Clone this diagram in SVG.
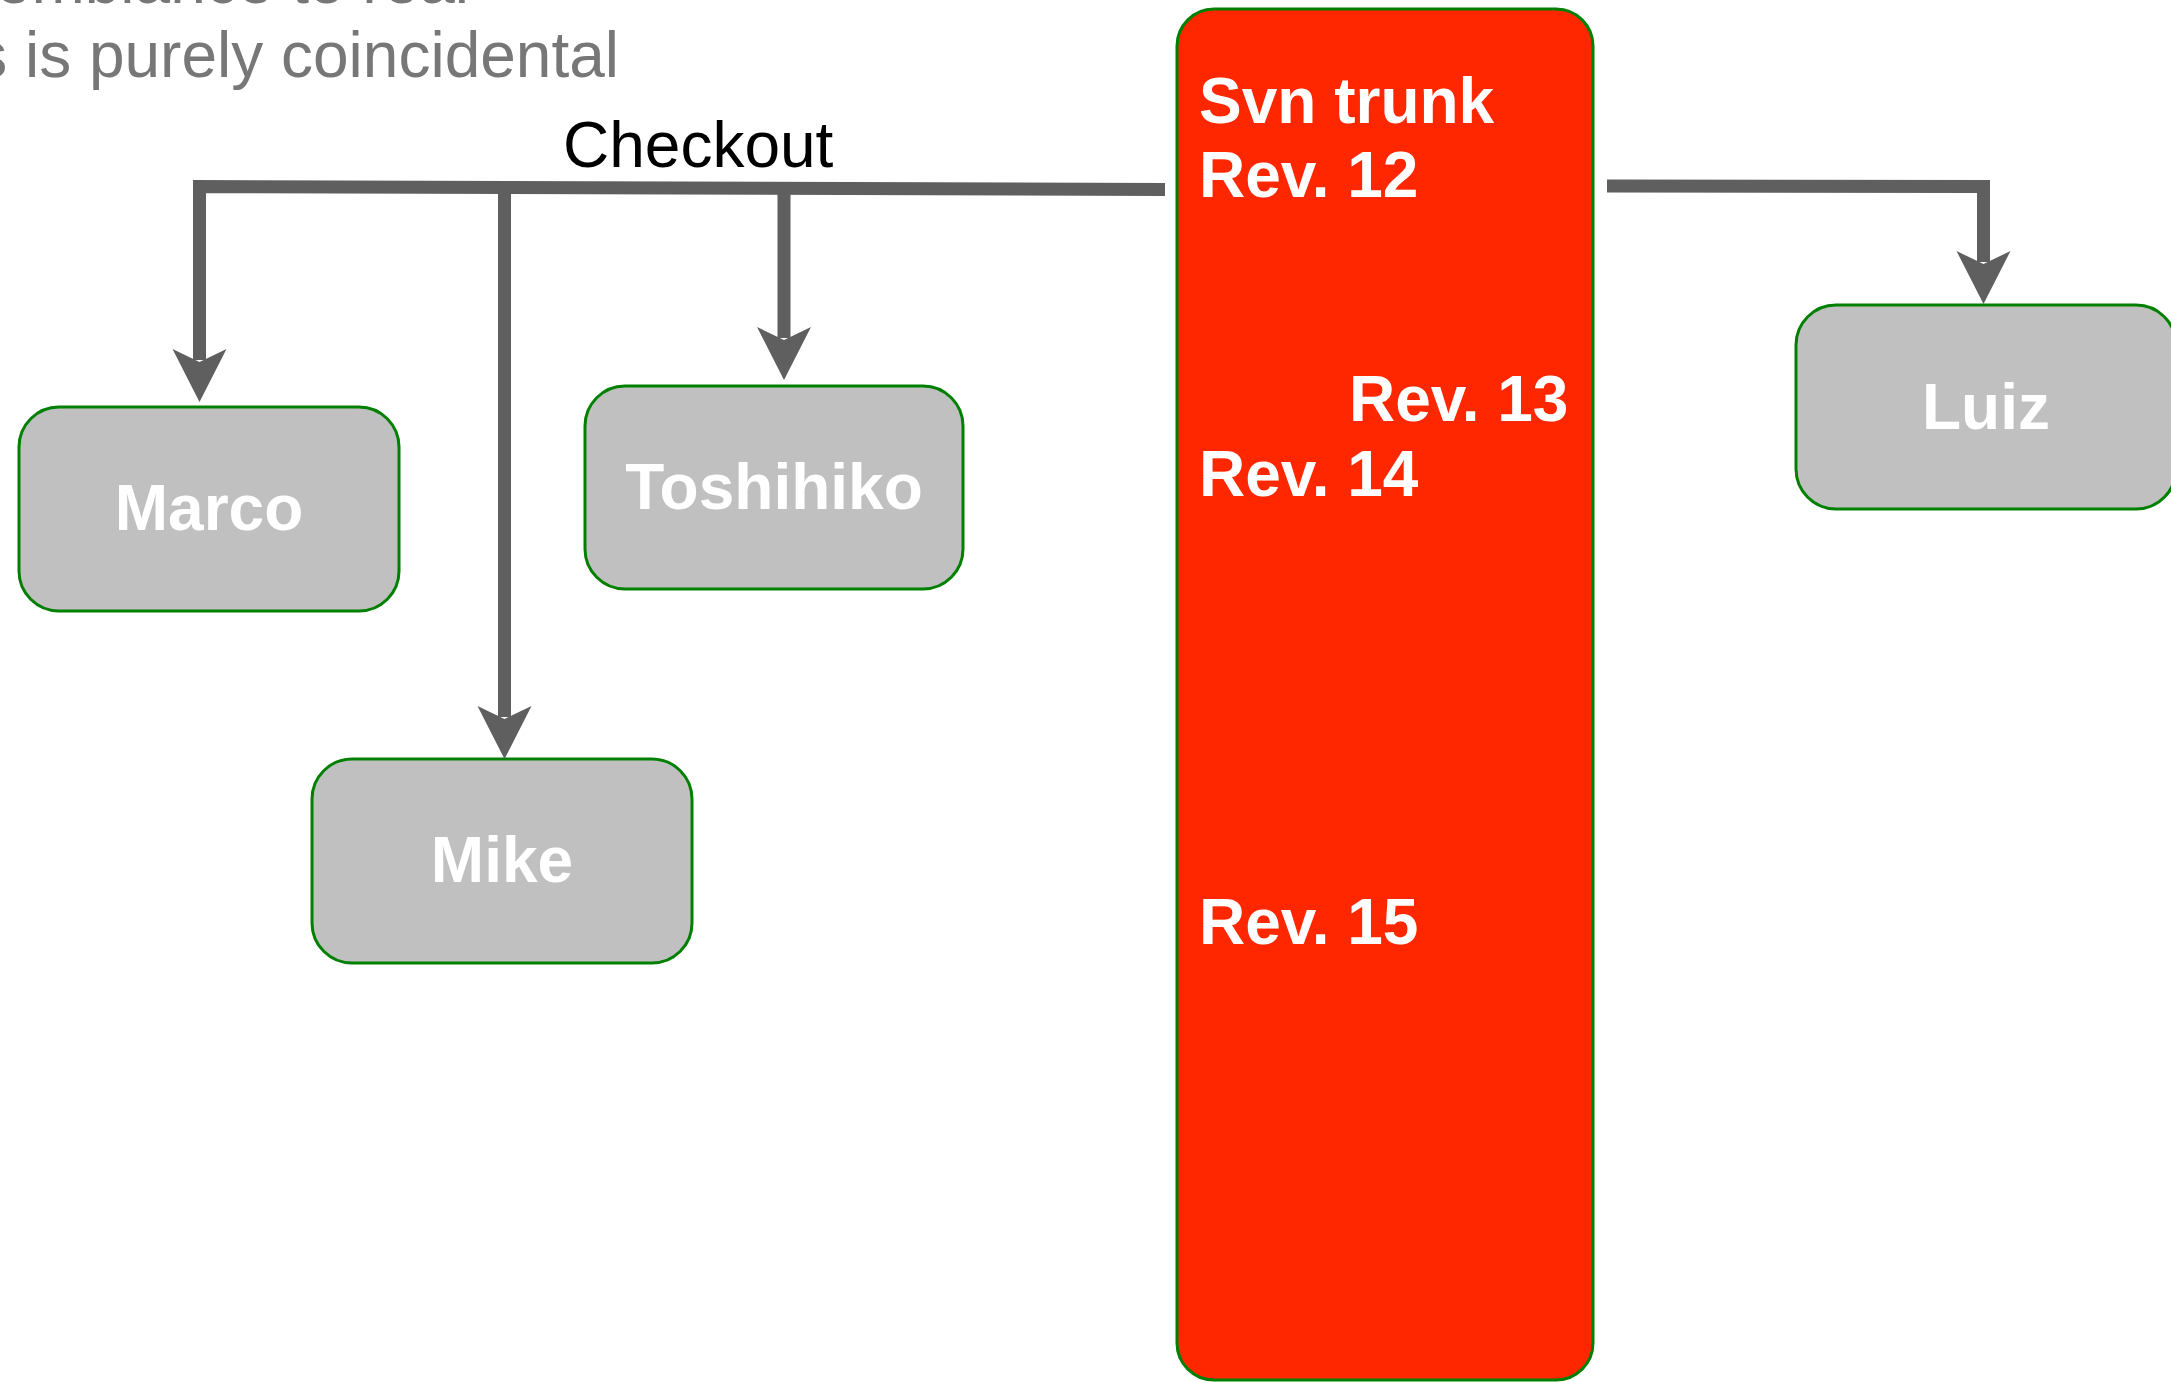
<svg xmlns="http://www.w3.org/2000/svg" width="2171" height="1382" viewBox="0 0 2171 1382">
  <style>
    .note { font-family: "Liberation Sans", Arial, sans-serif; font-size: 64px; fill: #777777; }
    .label { font-family: "Liberation Sans", Arial, sans-serif; font-size: 64px; fill: #000000; }
    .person rect { fill: #c0c0c0; stroke: #008000; stroke-width: 3; }
    .person text { font-family: "Liberation Sans", Arial, sans-serif; font-size: 64px; font-weight: bold; fill: #ffffff; text-anchor: middle; }
    .trunk rect { fill: #ff2700; stroke: #008000; stroke-width: 3; }
    .trunk text { font-family: "Liberation Sans", Arial, sans-serif; font-size: 64px; font-weight: bold; fill: #ffffff; }
    .conn { fill: none; stroke: #5f5f5f; stroke-width: 13; stroke-linejoin: miter; stroke-linecap: butt; }
  </style>
  <defs>
    <marker id="arrow" viewBox="-56 -30 60 60" refX="-42" refY="0" markerWidth="60" markerHeight="60" markerUnits="userSpaceOnUse" orient="auto">
      <path d="M0,0 L-53,-27 L-40,0 L-53,27 Z" fill="#5f5f5f"/>
    </marker>
  </defs>
  <rect x="0" y="0" width="2171" height="1382" fill="#ffffff"/>

  <g id="note">
    <text class="note" x="469" y="3" text-anchor="end">resemblance to real</text>
    <text class="note" x="619" y="77" text-anchor="end">s is purely coincidental</text>
  </g>

  <g id="trunk" class="trunk">
    <rect x="1177" y="9" width="416" height="1371" rx="37" ry="37"/>
    <text x="1199" y="123">Svn trunk</text>
    <text x="1199" y="197">Rev. 12</text>
    <text x="1349" y="421">Rev. 13</text>
    <text x="1199" y="496">Rev. 14</text>
    <text x="1199" y="944">Rev. 15</text>
  </g>

  <g id="marco" class="person">
    <rect x="19" y="407" width="380" height="204" rx="40" ry="40"/>
    <text x="209" y="530">Marco</text>
  </g>
  <g id="toshihiko" class="person">
    <rect x="585" y="386" width="378" height="203" rx="40" ry="40"/>
    <text x="774" y="509">Toshihiko</text>
  </g>
  <g id="mike" class="person">
    <rect x="312" y="759" width="380" height="204" rx="40" ry="40"/>
    <text x="502" y="882">Mike</text>
  </g>
  <g id="luiz" class="person">
    <rect x="1796" y="305" width="380" height="204" rx="40" ry="40"/>
    <text x="1986" y="429">Luiz</text>
  </g>

  <g id="connectors">
    <path class="conn" d="M1165,189.5 L199.5,186.5 L199.5,360" marker-end="url(#arrow)"/>
    <path class="conn" d="M504.5,188 L504.5,717" marker-end="url(#arrow)"/>
    <path class="conn" d="M784,188 L784,338" marker-end="url(#arrow)"/>
    <path class="conn" d="M1607,186 L1983.5,186.5 L1983.5,262" marker-end="url(#arrow)"/>
    <text class="label" x="563" y="167">Checkout</text>
  </g>
</svg>
